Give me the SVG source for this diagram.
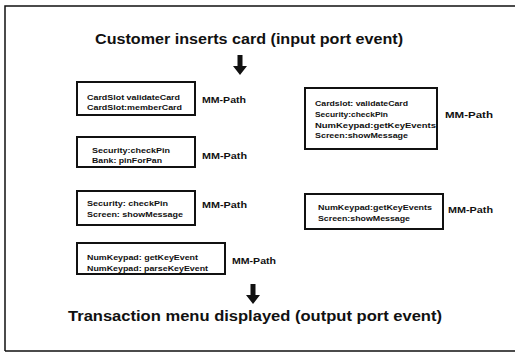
<svg xmlns="http://www.w3.org/2000/svg" width="515" height="353" viewBox="0 0 515 353">
<style>
.t{font-family:"Liberation Sans",Arial,sans-serif;font-weight:bold;fill:#111}
.big{font-size:14px}
.sm{font-size:8px}
.mm{font-size:9.5px}
.box{fill:#fff;stroke:#111;stroke-width:2}
</style>
<defs>
<path id="arr" d="M-2.5,0 H2.5 V11 H7 L0,20 L-7,11 H-2.5 Z" fill="#111"/>
</defs>
<rect width="515" height="353" fill="#fff"/>
<path d="M5,351 V6 H515 M5,351 H515" fill="none" stroke="#111" stroke-width="1.5"/>
<text class="t big" x="95" y="44" textLength="308" lengthAdjust="spacingAndGlyphs">Customer inserts card (input port event)</text>
<text class="t big" x="68" y="321" textLength="374" lengthAdjust="spacingAndGlyphs">Transaction menu displayed (output port event)</text>
<g id="connectors">
<use href="#arr" x="240" y="55"/>
<use href="#arr" x="253" y="284"/>
</g>
<g id="box1">
<rect class="box" x="77" y="82" width="118" height="33"/>
<text class="t sm" x="87" y="100" textLength="93" lengthAdjust="spacingAndGlyphs">CardSlot validateCard</text>
<text class="t sm" x="87" y="110" textLength="95" lengthAdjust="spacingAndGlyphs">CardSlot:memberCard</text>
<text class="t mm" x="202" y="103" textLength="44" lengthAdjust="spacingAndGlyphs">MM-Path</text>
</g>
<g id="box2">
<rect class="box" x="77" y="137" width="118" height="30"/>
<text class="t sm" x="92" y="153" textLength="78" lengthAdjust="spacingAndGlyphs">Security:checkPin</text>
<text class="t sm" x="92" y="163" textLength="70" lengthAdjust="spacingAndGlyphs">Bank: pinForPan</text>
<text class="t mm" x="202" y="159" textLength="45" lengthAdjust="spacingAndGlyphs">MM-Path</text>
</g>
<g id="box3">
<rect class="box" x="77" y="191" width="118" height="34"/>
<text class="t sm" x="87" y="206" textLength="81" lengthAdjust="spacingAndGlyphs">Security: checkPin</text>
<text class="t sm" x="87" y="217" textLength="96" lengthAdjust="spacingAndGlyphs">Screen: showMessage</text>
<text class="t mm" x="202" y="208" textLength="45" lengthAdjust="spacingAndGlyphs">MM-Path</text>
</g>
<g id="box4">
<rect class="box" x="77" y="243" width="148" height="31"/>
<text class="t sm" x="87" y="260" textLength="111" lengthAdjust="spacingAndGlyphs">NumKeypad: getKeyEvent</text>
<text class="t sm" x="87" y="271" textLength="121" lengthAdjust="spacingAndGlyphs">NumKeypad: parseKeyEvent</text>
<text class="t mm" x="232" y="264" textLength="44" lengthAdjust="spacingAndGlyphs">MM-Path</text>
</g>
<g id="boxA">
<rect class="box" x="305" y="88" width="132" height="61"/>
<text class="t sm" x="315" y="106" textLength="93" lengthAdjust="spacingAndGlyphs">Cardslot: validateCard</text>
<text class="t sm" x="315" y="117" textLength="73" lengthAdjust="spacingAndGlyphs">Security:checkPin</text>
<text class="t sm" x="315" y="128" textLength="121" lengthAdjust="spacingAndGlyphs">NumKeypad:getKeyEvents</text>
<text class="t sm" x="315" y="138" textLength="93" lengthAdjust="spacingAndGlyphs">Screen:showMessage</text>
<text class="t mm" x="445" y="118" textLength="48" lengthAdjust="spacingAndGlyphs">MM-Path</text>
</g>
<g id="boxB">
<rect class="box" x="305" y="194" width="138" height="35"/>
<text class="t sm" x="318" y="210" textLength="114" lengthAdjust="spacingAndGlyphs">NumKeypad:getKeyEvents</text>
<text class="t sm" x="318" y="221" textLength="92" lengthAdjust="spacingAndGlyphs">Screen:showMessage</text>
<text class="t mm" x="448" y="213" textLength="45" lengthAdjust="spacingAndGlyphs">MM-Path</text>
</g>
</svg>
